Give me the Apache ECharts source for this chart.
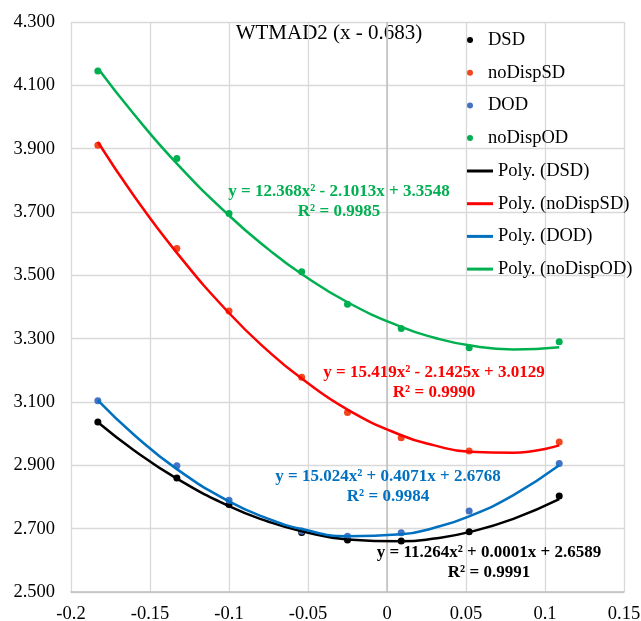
<!DOCTYPE html>
<html>
<head>
<meta charset="utf-8">
<script src="https://cdn.jsdelivr.net/npm/echarts@6/dist/echarts.min.js"></script>
<style>
  html, body { margin: 0; padding: 0; background: #fff; }
  #chart { width: 641px; height: 621px; }
</style>
</head>
<body>
<div id="chart"></div>
<script>
'use strict';

// measured points (x = shift from 0.683)
var xVals = [-0.183, -0.133, -0.1, -0.054, -0.025, 0.009, 0.052, 0.109];
var dsd = [3.037, 2.860, 2.776, 2.688, 2.664, 2.661, 2.690, 2.803];
var noDispSD = [3.911, 3.585, 3.387, 3.178, 3.067, 2.987, 2.945, 2.974];
var dod = [3.104, 2.899, 2.790, 2.693, 2.676, 2.687, 2.756, 2.906];
var noDispOD = [4.145, 3.869, 3.695, 3.511, 3.409, 3.332, 3.271, 3.290];

// trendlines
var trendX = [-0.183, -0.16, -0.133, -0.1, -0.075, -0.054, -0.025, 0.009, 0.03, 0.052, 0.08, 0.109];
var polyDSD = [3.036, 2.947, 2.858, 2.771, 2.722, 2.692, 2.666, 2.660, 2.669, 2.689, 2.731, 2.793];
var polyNoDispSD = [3.921, 3.750, 3.571, 3.381, 3.260, 3.174, 3.076, 2.995, 2.963, 2.943, 2.940, 2.963];
var polyDOD = [3.105, 2.996, 2.888, 2.786, 2.731, 2.699, 2.676, 2.682, 2.703, 2.739, 2.806, 2.900];
var polyNoDispOD = [4.154, 4.008, 3.853, 3.689, 3.582, 3.504, 3.415, 3.337, 3.303, 3.279, 3.266, 3.273];

var seriesNames = ['DSD', 'noDispSD', 'DOD', 'noDispOD'];
var polyNames = seriesNames.map(function (n) { return 'Poly. (' + n + ')'; });
var pointColors = ['#000000', '#F4461E', '#4472C4', '#00B050'];
var lineColors = ['#000000', '#FF0000', '#0070C0', '#00B050'];
var equations = [
  'y = 11.264x² + 0.0001x + 2.6589\nR² = 0.9991',
  'y = 15.419x² - 2.1425x + 3.0129\nR² = 0.9990',
  'y = 15.024x² + 0.4071x + 2.6768\nR² = 0.9984',
  'y = 12.368x² - 2.1013x + 3.3548\nR² = 0.9985'
];
var titleText = 'WTMAD2 (x - 0.683)';

var FONT = '"Liberation Serif", "Times New Roman", serif';

function pairs(xs, ys) {
  var out = [];
  for (var i = 0; i < xs.length; i++) {
    out.push([xs[i], ys[i]]);
  }
  return out;
}

var pointData = [dsd, noDispSD, dod, noDispOD];
var trendData = [polyDSD, polyNoDispSD, polyDOD, polyNoDispOD];

var series = [];
pointData.forEach(function (ys, i) {
  series.push({
    name: seriesNames[i],
    type: 'scatter',
    data: pairs(xVals, ys),
    symbol: 'circle',
    symbolSize: 7,
    itemStyle: { color: pointColors[i], opacity: 1 },
    z: 2
  });
});
trendData.forEach(function (ys, i) {
  var s = {
    name: polyNames[i],
    type: 'line',
    data: pairs(trendX, ys),
    smooth: 0.5,
    symbol: 'none',
    lineStyle: { color: lineColors[i], width: 2.5 },
    itemStyle: { color: lineColors[i] },
    z: 3
  };
  if (i === 0) {
    // vertical axis crossing at x = 0
    s.markLine = {
      silent: true,
      symbol: 'none',
      label: { show: false },
      lineStyle: { color: '#BFBFBF', width: 1.5, type: 'solid' },
      data: [{ xAxis: 0 }],
      z: 1
    };
  }
  series.push(s);
});

// equation label positions (pixels)
var eqPos = [[489, 563], [434, 383], [388, 487], [339, 202]];

var graphics = [{
  type: 'text',
  x: 329, y: 33,
  style: {
    text: titleText,
    font: '21px ' + FONT,
    fill: '#000',
    textAlign: 'center',
    textVerticalAlign: 'middle'
  }
}];
equations.forEach(function (t, i) {
  graphics.push({
    type: 'text',
    x: eqPos[i][0], y: eqPos[i][1],
    z: 10,
    style: {
      text: t,
      font: 'bold 17px ' + FONT,
      fill: lineColors[i],
      textAlign: 'center',
      textVerticalAlign: 'middle',
      lineHeight: 20
    }
  });
});

var legendText = { fontFamily: FONT, fontSize: 18.5, color: '#000', lineHeight: 20 };

var option = {
  backgroundColor: '#fff',
  animation: false,
  grid: { left: 71, right: 17, top: 22, bottom: 29, containLabel: false, outerBoundsMode: 'none' },
  legend: [{
    orient: 'vertical',
    left: 462,
    top: 25,
    itemWidth: 26,
    itemHeight: 6,
    itemGap: 12.7,
    textStyle: legendText,
    data: seriesNames
  }, {
    orient: 'vertical',
    left: 462,
    top: 156,
    itemWidth: 26,
    itemHeight: 3,
    itemGap: 12.7,
    icon: 'rect',
    textStyle: legendText,
    data: polyNames
  }],
  xAxis: {
    type: 'value',
    min: -0.2,
    max: 0.15,
    interval: 0.05,
    axisLine: { show: true, lineStyle: { color: '#BFBFBF', width: 1.5 } },
    axisTick: { show: false },
    axisLabel: { color: '#000', fontFamily: FONT, fontSize: 18.5, margin: 13 },
    splitLine: { show: true, lineStyle: { color: '#D9D9D9', width: 1.3 } }
  },
  yAxis: {
    type: 'value',
    min: 2.5,
    max: 4.3,
    interval: 0.2,
    axisLine: { show: false },
    axisTick: { show: false },
    axisLabel: {
      color: '#000', fontFamily: FONT, fontSize: 18.5, margin: 16,
      formatter: function (v) { return v.toFixed(3); }
    },
    splitLine: { show: true, lineStyle: { color: '#D9D9D9', width: 1.3 } }
  },
  graphic: graphics,
  series: series
};

var myChart = echarts.init(document.getElementById('chart'));
myChart.setOption(option);
</script>
</body>
</html>
